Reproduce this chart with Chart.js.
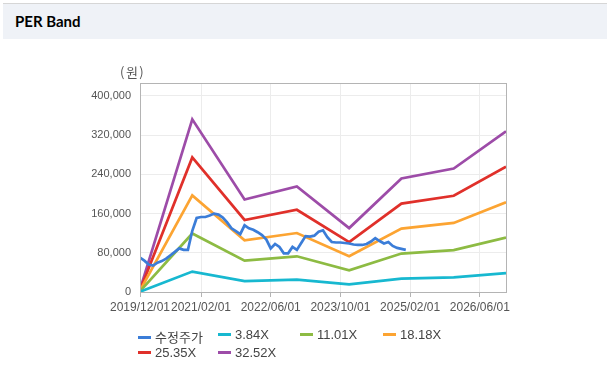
<!DOCTYPE html>
<html><head><meta charset="utf-8">
<script src="https://cdn.jsdelivr.net/npm/chart.js@4/dist/chart.umd.min.js"></script>
<style>
html,body{margin:0;padding:0;background:#fff;width:607px;height:381px;overflow:hidden;}
#hdr{position:absolute;left:3px;top:3px;width:604px;height:35px;background:#eff2f7;border-top:1px solid #d6d6d6;}
#hdr span{position:absolute;left:12px;top:8px;font:bold 15px Lato,"Liberation Sans",sans-serif;color:#000;}
#wrap{position:absolute;left:0;top:0;width:607px;height:381px;}
#unit{position:absolute;left:120px;top:62px;font:13px "Noto Sans CJK KR",sans-serif;color:#555;letter-spacing:1.5px;}
.lg{position:absolute;font:13px "Liberation Sans","Noto Sans CJK KR",sans-serif;color:#444;white-space:nowrap;}
.lg i{display:inline-block;width:13px;height:3px;vertical-align:middle;margin-right:4px;position:relative;top:-1px;}
</style></head><body>
<div id="hdr"><span>PER Band</span></div>
<div id="wrap"><canvas id="c" width="607" height="381"></canvas></div>
<div id="unit">(원)</div>
<div id="legend"></div>
<script>
// months since 2019/12
const xTickMonths = [0, 14, 30, 46, 62, 78];
const xTickLabels = ["2019/12/01","2021/02/01","2022/06/01","2023/10/01","2025/02/01","2026/06/01"];
const yTicks = [0, 80000, 160000, 240000, 320000, 400000];

// price: monthly, starting 2019/12 (index = month offset)
const priceLabel = "수정주가";
const price = [70000,64000,56000,54000,60000,63000,68000,75000,82000,89000,86000,86000,125000,151000,153000,153000,156000,160000,158000,152000,142000,130000,124000,118000,136000,130000,127000,122000,116000,107000,89000,98000,92000,79000,79000,92000,86000,100000,114000,113000,115000,123000,126000,112000,102000,101000,101000,100000,99000,97000,96000,96000,98000,103000,110000,104000,99000,102000,94000,90000,88000,86000];

// band points: yearly, 2019/12 .. 2026/12 (month offsets)
const bandMonths = [0, 12, 24, 36, 48, 60, 72, 84];
const band384  = [576, 41610, 22272, 25421, 15398, 27341, 29760, 38707];
const band1101 = [1652, 119304, 63858, 72886, 44150, 78391, 85328, 110981];
const band1818 = [2727, 197000, 105444, 120352, 72902, 129442, 140895, 183254];
const band2535 = [3803, 274693, 147030, 167817, 101654, 180492, 196463, 255528];
const band3252 = [4878, 352387, 188616, 215282, 130405, 231542, 252030, 327802];
const bandLabels = ["3.84X","11.01X","18.18X","25.35X","32.52X"];

const colors = ["#3b7dd8","#17b8d0","#8dbb43","#fca432","#e0302a","#9d4ca8"];

const toPts = (xs, ys) => ys.map((v,i)=>({x:xs[i], y:v}));
const priceMonths = price.map((_, i) => i);
const bands = [band384, band1101, band1818, band2535, band3252];

const datasets = [{label:priceLabel, data: toPts(priceMonths, price)}]
  .concat(bands.map((b,i)=>({label:bandLabels[i], data: toPts(bandMonths, b)})))
  .map((d,i)=>Object.assign(d,{borderColor:colors[i],backgroundColor:colors[i],borderWidth:2.7,pointRadius:0,tension:0,fill:false,order:i===0?-1:i}));

const frame = {id:'frame', afterDraw(ch){const a=ch.chartArea,c=ch.ctx;c.save();c.strokeStyle='#b4b4b4';c.lineWidth=1;c.strokeRect(Math.round(a.left)+0.5,Math.round(a.top)+0.5,Math.round(a.right-a.left),Math.round(a.bottom-a.top));c.restore();}};

new Chart(document.getElementById('c'), {
  type:'line',
  data:{datasets},
  options:{
    responsive:false, animation:false,
    layout:{padding:{left:0,top:83,right:101,bottom:0}},
    plugins:{legend:{display:false},tooltip:{enabled:false}},
    scales:{
      x:{type:'linear',min:0,max:84,
        afterBuildTicks(s){s.ticks = xTickMonths.map(v=>({value:v}));},
        afterFit(s){s.height = 89;},
        ticks:{autoSkip:false,maxRotation:0,padding:3,color:'#555',font:{family:'"Liberation Sans"',size:12},
          callback:(v)=>{const k=xTickMonths.indexOf(v);return k>=0?xTickLabels[k]:'';}},
        grid:{color:'#ececec',tickLength:5,tickColor:'#b4b4b4'},
        border:{color:'#b4b4b4'}
      },
      y:{min:0,max:426500,
        afterBuildTicks(s){s.ticks = yTicks.map(v=>({value:v}));},
        afterFit(s){s.width = 140;},
        ticks:{padding:9,color:'#555',font:{family:'"Liberation Sans"',size:11},
          callback:(v)=>v.toLocaleString('en-US')},
        grid:{color:'#ececec',drawTicks:false},
        border:{color:'#b4b4b4'}
      }
    }
  },
  plugins:[frame]
});

// HTML legend built from series names
const legendItems = [priceLabel].concat(bandLabels);
const legPos = [[138,327],[218,327],[300,327],[383,327],[138,345],[218,345]];
const L = document.getElementById('legend');
legendItems.forEach((t,i)=>{const d=document.createElement('div');d.className='lg';d.style.left=legPos[i][0]+'px';d.style.top=legPos[i][1]+'px';d.innerHTML='<i style="background:'+colors[i]+'"></i>'+t;L.appendChild(d);});
</script>
</body></html>
